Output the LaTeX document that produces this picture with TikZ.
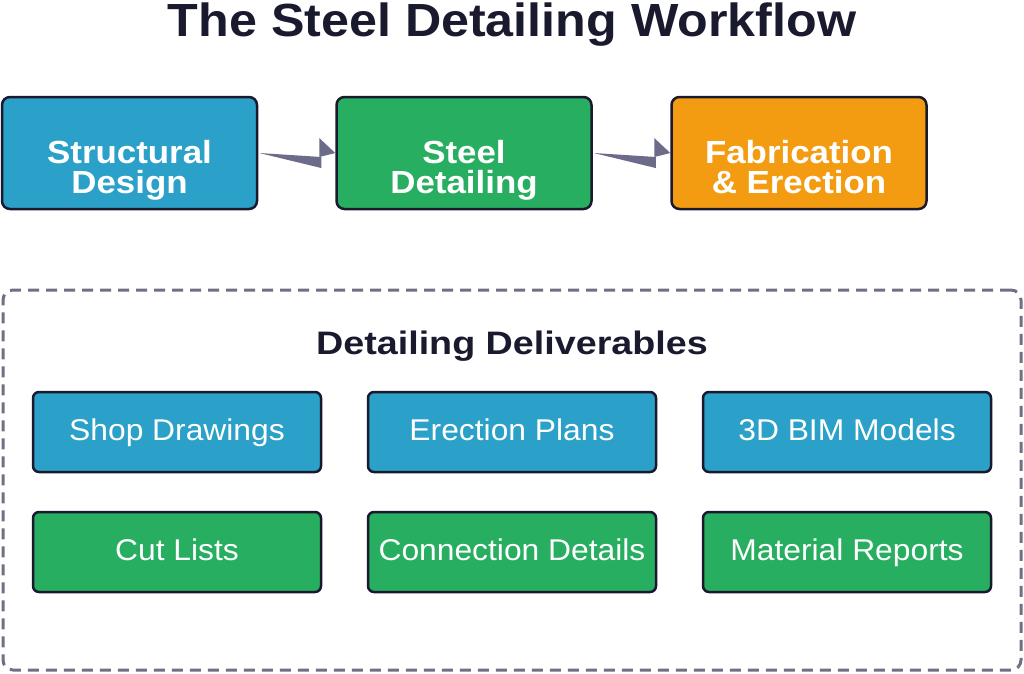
\documentclass[tikz,border=0pt]{standalone}
\usepackage{fontspec}
\setmainfont{Liberation Sans}
\usetikzlibrary{calc}
\definecolor{cblue}{RGB}{43,160,200}
\definecolor{cgreen}{RGB}{39,174,96}
\definecolor{corange}{RGB}{243,156,18}
\definecolor{cdark}{RGB}{26,26,46}
\definecolor{carrow}{RGB}{108,108,138}
\definecolor{cdash}{RGB}{112,112,132}
\newcommand{\wideTop}[1]{\scalebox{1.09}[1]{#1}}
\newcommand{\wideSub}[1]{\scalebox{1.06}[1]{#1}}
\tikzset{
  topbox/.style={draw=cdark, line width=2.5pt, rounded corners=8pt, minimum width=255pt, minimum height=112pt,
    text=white, font=\fontsize{32}{30}\selectfont\bfseries, align=center, inner sep=0pt,
    text height=83pt, text depth=3pt},
  subbox/.style={draw=cdark, line width=2.5pt, rounded corners=6pt, minimum width=288pt, minimum height=80pt,
    text=white, font=\fontsize{30}{34}\selectfont, inner sep=0pt, text height=22pt, text depth=6pt},
  arrowfill/.style={fill=carrow, draw=none},
  heading/.style={text=cdark, inner sep=0pt, anchor=base},
}
\begin{document}
\begin{tikzpicture}[x=1pt,y=-1pt]
\useasboundingbox (0,0) rectangle (1024,673);
\node[heading, font=\fontsize{46.5}{50}\selectfont\bfseries] (title) at (512,36) {\scalebox{1.08}[1]{The Steel Detailing Workflow}};

\node[topbox, fill=cblue] (sd) at (129.5,153) {\wideTop{Structural}\\\wideTop{Design}};
\node[topbox, fill=cgreen] (st) at (464,153) {\wideTop{Steel}\\\wideTop{Detailing}};
\node[topbox, fill=corange] (fe) at (799,153) {\wideTop{Fabrication}\\\wideTop{\& Erection}};

\fill[arrowfill] ($(sd.east)+(1,0)$) -- ($(sd.east)+(63,4)$) -- ($(sd.east)+(63,15)$) -- cycle;
\fill[arrowfill] (st.west) -- ($(st.west)+(-16,-15)$) -- ($(st.west)+(-16,4)$) -- cycle;
\fill[arrowfill] ($(st.east)+(1,0)$) -- ($(st.east)+(63,4)$) -- ($(st.east)+(63,15)$) -- cycle;
\fill[arrowfill] (fe.west) -- ($(fe.west)+(-16,-15)$) -- ($(fe.west)+(-16,4)$) -- cycle;

\node[draw=cdash, line width=3pt, dash pattern=on 11pt off 7pt, rounded corners=10pt,
  minimum width=1018pt, minimum height=380pt, inner sep=0pt] (group) at (512,480) {};
\node[heading, font=\fontsize{32.5}{36}\selectfont\bfseries] (glabel) at (512,354) {\scalebox{1.16}[1]{Detailing Deliverables}};

\node[subbox, fill=cblue] (shop) at (177,432) {\wideSub{Shop Drawings}};
\node[subbox, fill=cblue] (erec) at (512,432) {\wideSub{Erection Plans}};
\node[subbox, fill=cblue] (bim) at (847,432) {\wideSub{3D BIM Models}};
\node[subbox, fill=cgreen] (cut) at (177,552) {\wideSub{Cut Lists}};
\node[subbox, fill=cgreen] (conn) at (512,552) {\wideSub{Connection Details}};
\node[subbox, fill=cgreen] (mat) at (847,552) {\wideSub{Material Reports}};
\end{tikzpicture}
\end{document}
